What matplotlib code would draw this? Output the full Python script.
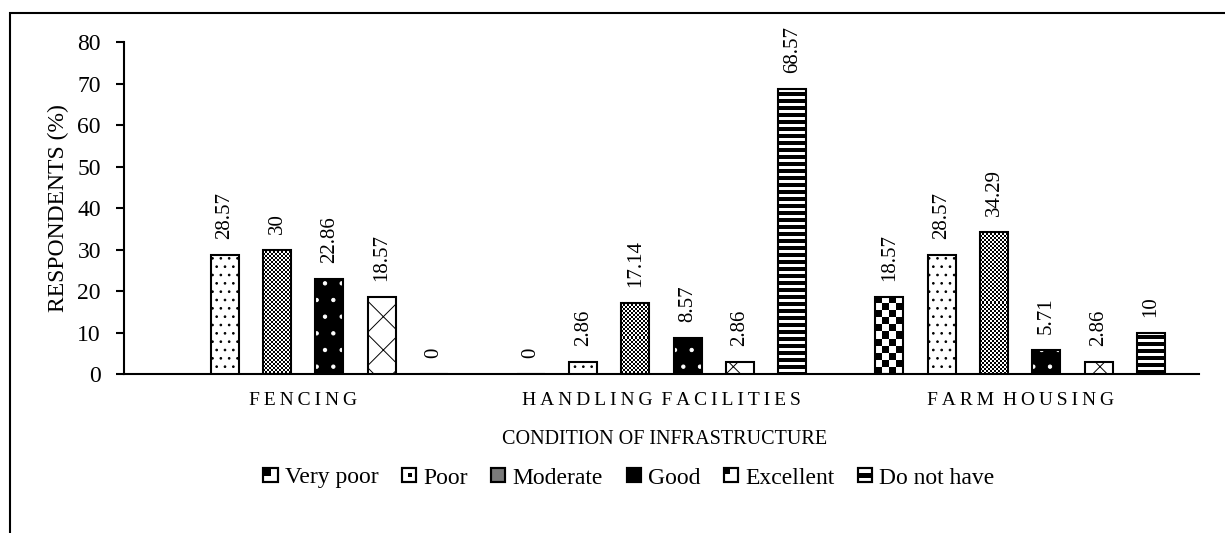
import matplotlib

matplotlib.use("Agg")
import matplotlib.pyplot as plt
import numpy as np
from matplotlib.legend_handler import HandlerBase
from matplotlib.patches import Patch, Rectangle

plt.rcParams["font.family"] = ["Liberation Serif", "DejaVu Serif"]
plt.rcParams["hatch.linewidth"] = 0.7

CATEGORIES = ["FENCING", "HANDLING FACILITIES", "FARM HOUSING"]
SERIES = ["Very poor", "Poor", "Moderate", "Good", "Excellent", "Do not have"]
VERY_POOR = [np.nan, 0, 18.57]
POOR = [28.57, 2.86, 28.57]
MODERATE = [30, 17.14, 34.29]
GOOD = [22.86, 8.57, 5.71]
EXCELLENT = [18.57, 2.86, 2.86]
DO_NOT_HAVE = [0, 68.57, 10]
Y_TICKS = [0, 10, 20, 30, 40, 50, 60, 70, 80]

# fill style per series: (face, hatch, hatch colour, image pattern)
STYLES = {
    "Very poor": ("none", None, None, "checker"),
    "Poor": ("white", "..", "black", None),
    "Moderate": ("none", None, None, "fine"),
    "Good": ("black", ".", "white", None),
    "Excellent": ("white", "x", "black", None),
    "Do not have": ("none", None, None, "stripes"),
}
# legend box: face, hatch, inner black rectangles (fractions of the box)
LEGEND_BOXES = {
    "Very poor": ("white", None, [(0.0, 0.45, 0.55, 0.55)]),
    "Poor": ("white", None, [(0.4, 0.35, 0.3, 0.3)]),
    "Moderate": ("#7a7a7a", None, []),
    "Good": ("black", None, []),
    "Excellent": ("white", None, [(0.0, 0.6, 0.4, 0.4)]),
    "Do not have": ("white", None, [(0.0, 0.33, 1.0, 0.34)]),
}

BAR_W = 0.078
STEP = 0.1459


class BoxHandler(HandlerBase):
    def __init__(self, face, hatch, inner):
        super().__init__()
        self.face, self.hatch, self.inner = face, hatch, inner

    def create_artists(self, legend, orig_handle, xdescent, ydescent, width, height, fontsize, trans):
        side = min(width, height)
        x0 = -xdescent + (width - side) / 2
        y0 = -ydescent + (height - side) / 2
        artists = [Rectangle((x0, y0), side, side, facecolor=self.face, edgecolor="black",
                             hatch=self.hatch, lw=1.5, transform=trans)]
        for fx, fy, fw, fh in self.inner:
            artists.append(Rectangle((x0 + fx * side, y0 + fy * side), fw * side, fh * side,
                                     facecolor="black", edgecolor="none", transform=trans))
        artists.append(Rectangle((x0, y0), side, side, facecolor="none", edgecolor="black",
                                 lw=1.5, transform=trans))
        return artists


def pattern_fill(ax, rect, kind):
    x0, y0 = rect.get_x(), rect.get_y()
    w, h = rect.get_width(), rect.get_height()
    if not np.isfinite(h) or h <= 0:
        return
    (px0, py0), (px1, py1) = ax.transData.transform([(x0, y0), (x0 + w, y0 + h)])
    wpx, hpx = int(round(px1 - px0)), int(round(py1 - py0))
    rows = np.arange(hpx)[:, None]
    cols = np.arange(wpx)[None, :]
    if kind == "checker":
        black = (rows // 7 + cols // 7) % 2 == 0
    elif kind == "fine":
        black = (rows // 2 + cols // 2) % 2 == 0
    else:
        black = np.broadcast_to(rows % 7 >= 3, (hpx, wpx))
    img = np.where(black, 0.0, 1.0)
    im = ax.imshow(img, cmap="gray", vmin=0, vmax=1, extent=(x0, x0 + w, y0, y0 + h),
                   origin="upper", aspect="auto", interpolation="nearest", zorder=2.5)
    im.set_clip_path(rect)


fig = plt.figure(figsize=(12.25, 5.33), dpi=100)
ax = fig.add_axes([0.1011, 0.2983, 0.878, 0.6229])
ax.set_xlim(-0.5, 2.5)
ax.set_ylim(0, 80)

x = np.arange(len(CATEGORIES))
all_values = [VERY_POOR, POOR, MODERATE, GOOD, EXCELLENT, DO_NOT_HAVE]

for i, (name, vals) in enumerate(zip(SERIES, all_values)):
    face, hatch, hcolor, pattern = STYLES[name]
    pos = x + (i - 2.5) * STEP
    if pattern:
        bars = ax.bar(pos, vals, BAR_W, facecolor="none", edgecolor="black", lw=1.5, zorder=3)
        for rect in bars:
            pattern_fill(ax, rect, pattern)
    elif hcolor == "white":
        ax.bar(pos, vals, BAR_W, facecolor=face, edgecolor="white", hatch=hatch, lw=0, zorder=2)
        bars = ax.bar(pos, vals, BAR_W, facecolor="none", edgecolor="black", lw=1.5, zorder=3)
    else:
        bars = ax.bar(pos, vals, BAR_W, facecolor=face, edgecolor="black", hatch=hatch,
                      lw=1.5, zorder=3)
    for rect, v in zip(bars, vals):
        if np.isnan(v):
            continue
        ax.annotate(f"{v:g}", (rect.get_x() + rect.get_width() / 2, v), xytext=(0, 11.5),
                    textcoords="offset points", rotation=90, ha="center", va="bottom",
                    fontsize=15)

for side in ["top", "right"]:
    ax.spines[side].set_visible(False)
ax.spines["left"].set_linewidth(1.5)
ax.spines["bottom"].set_linewidth(1.5)

ax.set_yticks(Y_TICKS)
ax.tick_params(axis="y", direction="out", length=6, width=1.5, pad=10.5, labelsize=17)
spaced = [" \u2009".join("\u2009".join(word) for word in c.split()) for c in CATEGORIES]
ax.set_xticks(x, labels=spaced)
ax.tick_params(axis="x", length=0, pad=13, labelsize=14)

ax.set_ylabel("RESPONDENTS (%)", fontsize=17)
ax.yaxis.set_label_coords(-0.051, 0.5)

fig.text(665 / 1225, 1 - 440 / 533, "CONDITION OF INFRASTRUCTURE", ha="center", va="center",
         fontsize=14.5)

handles = [Patch(label=name) for name in SERIES]
handler_map = {h: BoxHandler(*LEGEND_BOXES[name]) for h, name in zip(handles, SERIES)}
fig.legend(handles=handles, labels=SERIES, handler_map=handler_map, loc="center",
           bbox_to_anchor=(629 / 1225, 1 - 478 / 533), ncol=6, frameon=False, fontsize=17,
           handlelength=0.6, handleheight=0.6, handletextpad=0.3, columnspacing=1.0)

fig.add_artist(Rectangle((10 / 1225, -0.05), 1.1, 1.05 - 12.5 / 533, transform=fig.transFigure,
                         fill=False, lw=1.5, edgecolor="black"))

fig.savefig("out.png", dpi=100)
